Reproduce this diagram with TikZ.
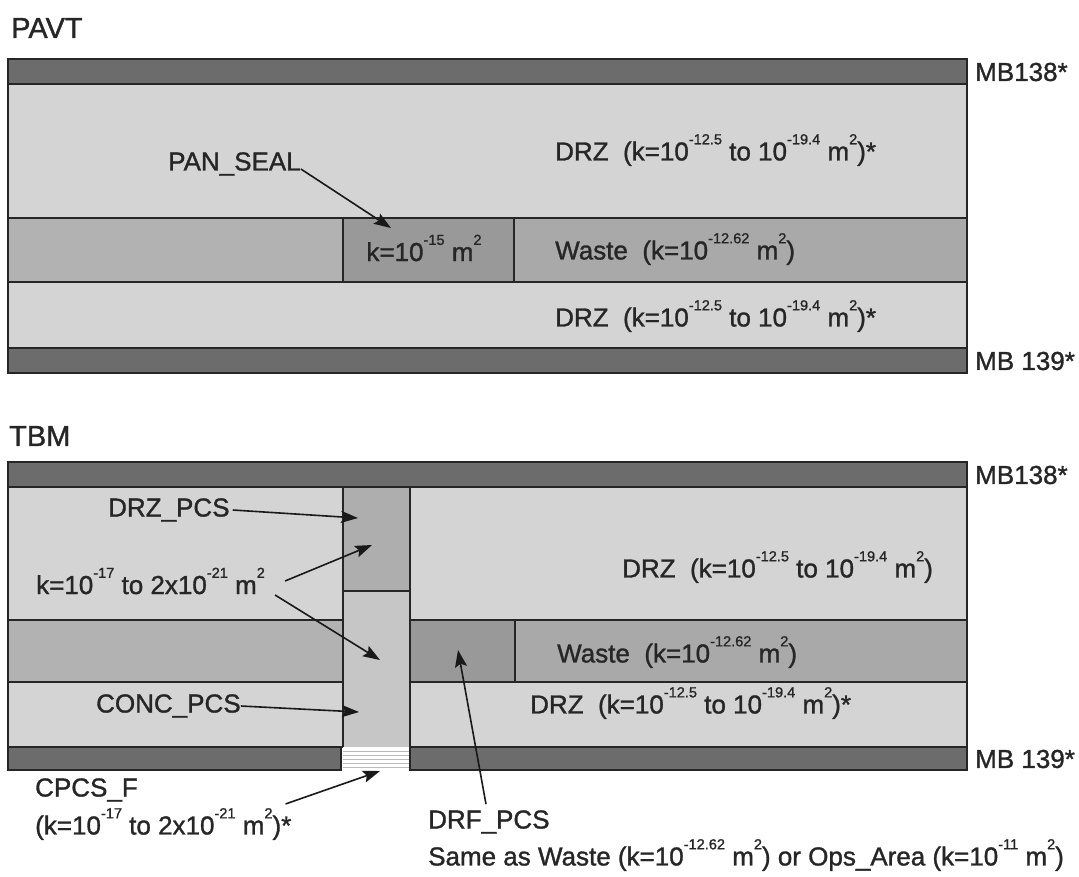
\documentclass[tikz,border=0pt]{standalone}
\usepackage{fontspec}
\setmainfont[FakeBold=1.2]{Liberation Sans}
\usetikzlibrary{arrows.meta}
\newcommand\sps[1]{\raisebox{0.62em}{\scalebox{0.56}{#1}}}
\definecolor{mbgray}{HTML}{6C6C6C}
\definecolor{drzgray}{HTML}{D4D4D4}
\definecolor{wastegray}{HTML}{A9A9A9}
\definecolor{leftgray}{HTML}{B2B2B2}
\definecolor{sealgray}{HTML}{999999}
\definecolor{pcsgray}{HTML}{AEAEAE}
\definecolor{concgray}{HTML}{C6C6C6}
\tikzset{
  layer/.style={draw=black!85, line width=1.3pt},
  lbl/.style={inner sep=0pt, font=\fontsize{26}{30}\selectfont, text=black!85, anchor=west},
  ttl/.style={inner sep=0pt, font=\fontsize{29}{34}\selectfont, text=black!85, anchor=west},
  arr/.style={line width=1.6pt, draw=black!90, -{Stealth[length=17pt,width=12pt,inset=3pt]}},
  hatch/.style={draw=gray!55, line width=0.6pt}
}
\begin{document}
\begin{tikzpicture}[x=1pt,y=-1pt]
\useasboundingbox[fill=white] (0,0) rectangle (1079,876);
% ---------------- PAVT ----------------
\node[ttl] (pavt) at (11,28) {PAVT};
\fill[drzgray] (8,84) rectangle (967,218);
\fill[leftgray] (8,218) rectangle (343,282);
\fill[sealgray] (343,218) rectangle (514,282);
\fill[wastegray] (514,218) rectangle (967,282);
\fill[drzgray] (8,282) rectangle (967,348);
\fill[mbgray] (8,59) rectangle (967,84);
\fill[mbgray] (8,348) rectangle (967,373);
\draw[layer] (8,59) rectangle (967,373);
\draw[layer] (8,84) -- (967,84);
\draw[layer] (8,218) -- (967,218);
\draw[layer] (8,282) -- (967,282);
\draw[layer] (8,348) -- (967,348);
\draw[layer] (343,218) -- (343,282);
\draw[layer] (514,218) -- (514,282);
\node[lbl] (mb138a) at (975,72) {MB138*};
\node[lbl] (mb139a) at (975,361) {MB 139*};
\node[lbl] (drza) at (555,150) {DRZ\ \ (k=10\sps{-12.5} to 10\sps{-19.4} m\sps{2})*};
\node[lbl] (pan) at (168,164) {PAN\_SEAL};
\node[lbl, anchor=center] (kpan) at (424,248) {k=10\sps{-15} m\sps{2}};
\node[lbl] (wastea) at (555,249) {Waste\ \ (k=10\sps{-12.62} m\sps{2})};
\node[lbl] (drzb) at (555,316) {DRZ\ \ (k=10\sps{-12.5} to 10\sps{-19.4} m\sps{2})*};
\coordinate (pantip) at (391,228);
\draw[arr] ([yshift=-5pt]pan.east) -- (pantip);
% ---------------- TBM ----------------
\node[ttl] (tbm) at (9,436) {TBM};
\fill[drzgray] (8,487) rectangle (343,620);
\fill[drzgray] (410,487) rectangle (967,620);
\fill[pcsgray] (343,487) rectangle (410,591);
\fill[concgray] (343,591) rectangle (410,747);
\fill[leftgray] (8,620) rectangle (343,682);
\fill[sealgray] (410,620) rectangle (515,682);
\fill[wastegray] (515,620) rectangle (967,682);
\fill[drzgray] (8,682) rectangle (343,747);
\fill[drzgray] (410,682) rectangle (967,747);
\fill[mbgray] (8,462) rectangle (967,487);
\fill[mbgray] (8,747) rectangle (341,770);
\fill[mbgray] (410,747) rectangle (967,770);
\fill[white] (343,747) rectangle (410,770);
\foreach \yy in {751,755,759,763,767} \draw[hatch] (343,\yy) -- (410,\yy);
\draw[layer] (8,462) rectangle (967,487);
\draw[layer] (8,487) -- (8,770) -- (341,770) -- (341,747);
\draw[layer] (8,620) -- (343,620);
\draw[layer] (8,682) -- (343,682);
\draw[layer] (8,747) -- (343,747);
\draw[layer] (343,487) -- (343,747);
\draw[layer] (410,487) -- (410,770) -- (967,770) -- (967,487);
\draw[layer] (343,591) -- (410,591);
\draw[layer] (410,620) -- (967,620);
\draw[layer] (410,682) -- (967,682);
\draw[layer] (410,747) -- (967,747);
\draw[layer] (515,620) -- (515,682);
\node[lbl] (mb138b) at (975,475) {MB138*};
\node[lbl] (mb139b) at (975,759) {MB 139*};
\node[lbl] (drzc) at (622,567) {DRZ\ \ (k=10\sps{-12.5} to 10\sps{-19.4} m\sps{2})};
\node[lbl] (wasteb) at (557,652) {Waste\ \ (k=10\sps{-12.62} m\sps{2})};
\node[lbl] (drzd) at (530,703) {DRZ\ \ (k=10\sps{-12.5} to 10\sps{-19.4} m\sps{2})*};
\node[lbl] (drzpcs) at (108,510) {DRZ\_PCS};
\node[lbl] (kpcs) at (36,581) {k=10\sps{-17} to 2x10\sps{-21} m\sps{2}};
\node[lbl] (conc) at (96,706) {CONC\_PCS};
\node[lbl] (cpcsf) at (35,790) {CPCS\_F};
\node[lbl] (cpcsk) at (35,824) {(k=10\sps{-17} to 2x10\sps{-21} m\sps{2})*};
\node[lbl] (drf) at (428,822) {DRF\_PCS};
\node[lbl] (same) at (428,855) {Same as Waste (k=10\sps{-12.62} m\sps{2}) or Ops\_Area (k=10\sps{-11} m\sps{2})};
\coordinate (drzpcstip) at (358,518);
\coordinate (kup) at (372,545);
\coordinate (kdown) at (380,660);
\coordinate (conctip) at (359,712);
\coordinate (cpcstip) at (380,771);
\coordinate (drftip) at (458,650);
\draw[arr] ([xshift=3pt]drzpcs.east) -- (drzpcstip);
\draw[arr] ([xshift=20pt,yshift=0pt]kpcs.east) -- (kup);
\draw[arr] ([xshift=10pt,yshift=-14pt]kpcs.east) -- (kdown);
\draw[arr] (conc.east) -- (conctip);
\draw[arr] ([xshift=-6pt,yshift=4pt]cpcsk.north east) -- (cpcstip);
\draw[arr] ([xshift=58pt,yshift=6pt]drf.north west) -- (drftip);
\end{tikzpicture}
\end{document}
